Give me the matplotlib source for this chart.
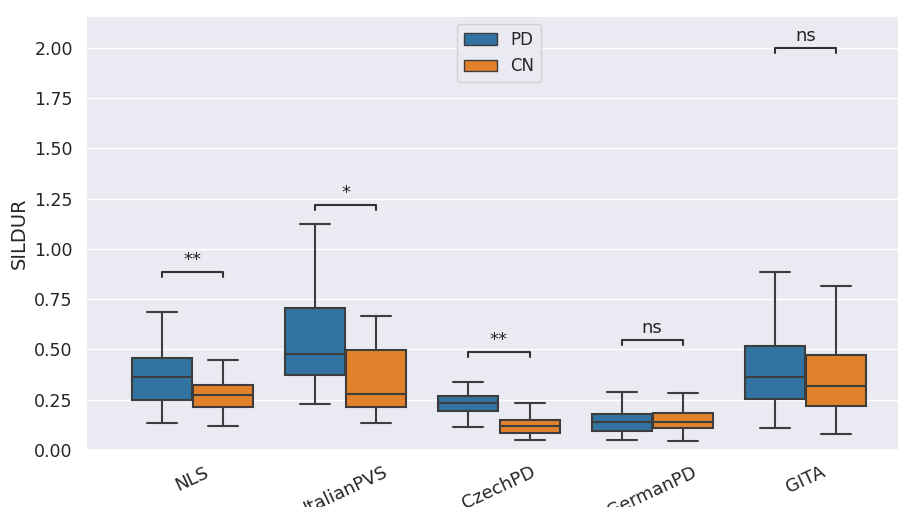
import numpy as np
import matplotlib
matplotlib.use("Agg")
import matplotlib.pyplot as plt
import seaborn as sns
from matplotlib.patches import Patch

# SILDUR per dataset, PD vs CN (box stats: whisker low, Q1, median, Q3, whisker high)
datasets = ["NLS", "ItalianPVS", "CzechPD", "GermanPD", "GITA"]

pd_lo  = [0.136, 0.227, 0.116, 0.050, 0.111]
pd_q1  = [0.247, 0.373, 0.192, 0.096, 0.254]
pd_med = [0.362, 0.476, 0.235, 0.139, 0.365]
pd_q3  = [0.459, 0.705, 0.267, 0.179, 0.517]
pd_hi  = [0.688, 1.124, 0.337, 0.290, 0.886]

cn_lo  = [0.119, 0.133, 0.048, 0.045, 0.081]
cn_q1  = [0.214, 0.212, 0.086, 0.109, 0.219]
cn_med = [0.272, 0.280, 0.119, 0.139, 0.317]
cn_q3  = [0.325, 0.498, 0.151, 0.182, 0.474]
cn_hi  = [0.448, 0.667, 0.234, 0.285, 0.814]

# significance brackets
sig_labels = ["**", "*", "**", "ns", "ns"]
sig_height = [0.886, 1.219, 0.489, 0.549, 2.000]

sns.set_theme(style="darkgrid")
plt.rcParams["font.family"] = ["DejaVu Sans"]

colors = {"PD": "#3274a1", "CN": "#e1812c"}
edge = "#3d3d3d"

fig = plt.figure(figsize=(8.99, 5.07), dpi=100)
ax = fig.add_axes([86 / 899, 57 / 507, 813 / 899, 434 / 507])


def make_stats(lo, q1, med, q3, hi):
    return [dict(whislo=a, q1=b, med=c, q3=d, whishi=e, fliers=[])
            for a, b, c, d, e in zip(lo, q1, med, q3, hi)]


x = np.arange(len(datasets))
w = 0.4 * 0.98
line_kw = dict(color=edge, linewidth=1.5)
for stats, off, name in [
    (make_stats(pd_lo, pd_q1, pd_med, pd_q3, pd_hi), -0.2, "PD"),
    (make_stats(cn_lo, cn_q1, cn_med, cn_q3, cn_hi), 0.2, "CN"),
]:
    ax.bxp(stats, positions=x + off, widths=w, patch_artist=True,
           showfliers=False, manage_ticks=False,
           boxprops=dict(facecolor=colors[name], edgecolor=edge, linewidth=1.5),
           medianprops=line_kw, whiskerprops=line_kw, capprops=line_kw)

# significance annotations
tick = 0.025
for i, (lab, h) in enumerate(zip(sig_labels, sig_height)):
    x1, x2 = i - 0.2, i + 0.2
    ax.plot([x1, x1, x2, x2], [h - tick, h, h, h - tick],
            color="#333333", linewidth=1.5, clip_on=False)
    ax.annotate(lab, xy=(i, h), xytext=(0, 2), textcoords="offset points",
                ha="center", va="bottom", fontsize=13, color="#262626")

ax.set_xlim(-0.694, 4.61)
ax.set_ylim(0, 2.159)
ax.grid(axis="x", visible=False)
ax.set_yticks([0, 0.25, 0.5, 0.75, 1.0, 1.25, 1.5, 1.75, 2.0])
ax.set_yticklabels([f"{v:.2f}" for v in ax.get_yticks()], fontsize=12.5)
ax.set_xticks(x)
ax.set_xticklabels(datasets, rotation=25, fontsize=13)
ax.set_ylabel("SILDUR", fontsize=14)
ax.set_xlabel("")

handles = [Patch(facecolor=colors[k], edgecolor=edge, label=k) for k in ["PD", "CN"]]
ax.legend(handles=handles, loc="upper center", bbox_to_anchor=(0.508, 1.0),
          fontsize=12)

fig.savefig("out.png", dpi=100)
